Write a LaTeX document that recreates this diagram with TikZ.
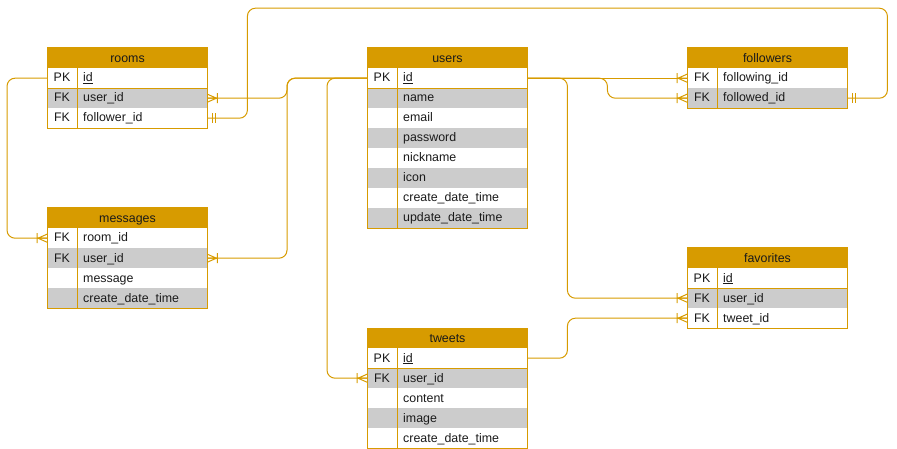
\documentclass[tikz,border=0pt]{standalone}
\usepackage{fontspec}
\setmainfont{Liberation Sans}
\definecolor{ero}{HTML}{D79B00}
\definecolor{erg}{HTML}{CCCCCC}
\definecolor{ertext}{HTML}{1A1A1A}
\tikzset{
  txtfont/.style={font=\fontsize{12.4}{14}\selectfont, text=ertext},
  hdr/.style={fill=ero, draw=ero, line width=1pt, minimum width=160pt, minimum height=20pt, inner sep=0pt, anchor=north west},
  hdrtxt/.style={txtfont, inner sep=0pt, text height=8.6pt, text depth=2.6pt, yshift=-0.8pt},
  rowbox/.style={minimum width=160pt, minimum height=20pt, inner sep=0pt, anchor=north west, draw=none},
  ktxt/.style={txtfont, inner sep=0pt, text height=8.6pt, text depth=2.6pt, yshift=-0.8pt},
  ftxt/.style={txtfont, inner sep=0pt, anchor=west, text height=8.6pt, text depth=2.6pt, yshift=-0.8pt},
  tblline/.style={draw=ero, line width=1pt},
  conn/.style={draw=ero, line width=1pt, rounded corners=8pt},
  ermark/.style={draw=ero, line width=1pt},
}
\newcommand\ertitle[4]{%
  \node[hdr] (#1) at (#2,#3) {};
  \node[hdrtxt] (#1-t) at (#1.center) {#4};
}
\newcommand\errow[6]{%
  \node[rowbox, fill=#6] (#1) at (#2,#3) {};
  \node[ktxt] (#1-k) at ([xshift=15pt]#1.west) {#4};
  \node[ftxt] (#1-f) at ([xshift=36pt]#1.west) {#5};
}
\newcommand\erframe[4]{% header, first row, last row, has pk
  \draw[tblline] (#1.north west) rectangle (#3.south east);
  \draw[tblline] ([xshift=30pt]#2.north west) -- ([xshift=30pt]#3.south west);
  \ifx#4y\draw[tblline] (#2.south west) -- (#2.south east);\fi
}
\newcommand\crowfoot[2]{%
  \begin{scope}[shift={(#1)}, xscale=#2]
    \draw[ermark] (0,-4) -- (9,0) -- (0,4) (0,0) -- (9,0) (10,-5) -- (10,5);
  \end{scope}}
\newcommand\mandone[2]{%
  \begin{scope}[shift={(#1)}, xscale=#2]
    \draw[ermark] (5,-5) -- (5,5) (8,-5) -- (8,5);
  \end{scope}}
\begin{document}
\begin{tikzpicture}[x=1pt, y=-1pt]
\useasboundingbox (0,0) rectangle (897,449);

% rooms
\ertitle{rooms}{47}{48}{rooms}
\errow{rooms-id}{47}{68}{PK}{\underline{id}}{white}
\errow{rooms-uid}{47}{88}{FK}{user\_id}{erg}
\errow{rooms-fid}{47}{108}{FK}{follower\_id}{white}
\erframe{rooms}{rooms-id}{rooms-fid}{y}

% messages
\ertitle{messages}{47}{208}{messages}
\errow{msg-rid}{47}{228}{FK}{room\_id}{white}
\errow{msg-uid}{47}{248}{FK}{user\_id}{erg}
\errow{msg-msg}{47}{268}{}{message}{white}
\errow{msg-cdt}{47}{288}{}{create\_date\_time}{erg}
\erframe{messages}{msg-rid}{msg-cdt}{n}

% users
\ertitle{users}{367}{48}{users}
\errow{users-id}{367}{68}{PK}{\underline{id}}{white}
\errow{users-name}{367}{88}{}{name}{erg}
\errow{users-email}{367}{108}{}{email}{white}
\errow{users-pw}{367}{128}{}{password}{erg}
\errow{users-nick}{367}{148}{}{nickname}{white}
\errow{users-icon}{367}{168}{}{icon}{erg}
\errow{users-cdt}{367}{188}{}{create\_date\_time}{white}
\errow{users-udt}{367}{208}{}{update\_date\_time}{erg}
\erframe{users}{users-id}{users-udt}{y}

% followers
\ertitle{followers}{687}{48}{followers}
\errow{fol-fing}{687}{68}{FK}{following\_id}{white}
\errow{fol-fed}{687}{88}{FK}{followed\_id}{erg}
\erframe{followers}{fol-fing}{fol-fed}{n}

% favorites
\ertitle{favorites}{687}{248}{favorites}
\errow{fav-id}{687}{268}{PK}{\underline{id}}{white}
\errow{fav-uid}{687}{288}{FK}{user\_id}{erg}
\errow{fav-tid}{687}{308}{FK}{tweet\_id}{white}
\erframe{favorites}{fav-id}{fav-tid}{y}

% tweets
\ertitle{tweets}{367}{328}{tweets}
\errow{tw-id}{367}{348}{PK}{\underline{id}}{white}
\errow{tw-uid}{367}{368}{FK}{user\_id}{erg}
\errow{tw-content}{367}{388}{}{content}{white}
\errow{tw-image}{367}{408}{}{image}{erg}
\errow{tw-cdt}{367}{428}{}{create\_date\_time}{white}
\erframe{tweets}{tw-id}{tw-cdt}{y}

% connectors
\draw[conn] (rooms-id.west) -- ++(-40,0) |- (msg-rid.west);
\crowfoot{msg-rid.west}{-1}

\draw[conn] (users-id.west) -- ++(-80,0) |- (rooms-uid.east);
\crowfoot{rooms-uid.east}{1}
\draw[conn] (users-id.west) -- ++(-80,0) |- (msg-uid.east);
\crowfoot{msg-uid.east}{1}

\draw[conn] (users-id.west) -- ++(-40,0) |- (tw-uid.west);
\crowfoot{tw-uid.west}{-1}

\draw[conn] (rooms-fid.east) -- ++(40,0) -- ++(0,-110) -- ++(640,0) -- ++(0,90) -- (fol-fed.east);
\mandone{rooms-fid.east}{1}
\mandone{fol-fed.east}{1}

\draw[conn] (users-id.east) -- (fol-fing.west);
\crowfoot{fol-fing.west}{-1}
\draw[conn] (users-id.east) -- ++(80,0) |- (fol-fed.west);
\crowfoot{fol-fed.west}{-1}

\draw[conn] (users-id.east) -- ++(40,0) |- (fav-uid.west);
\crowfoot{fav-uid.west}{-1}
\draw[conn] (tw-id.east) -- ++(40,0) |- (fav-tid.west);
\crowfoot{fav-tid.west}{-1}
\end{tikzpicture}
\end{document}
